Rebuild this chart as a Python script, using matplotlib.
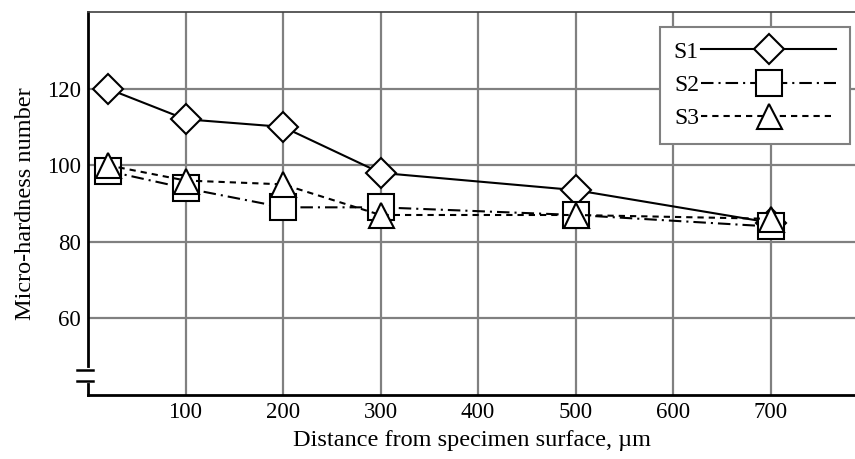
import matplotlib
matplotlib.use("Agg")
import matplotlib.pyplot as plt
from matplotlib.lines import Line2D

plt.rcParams['font.family'] = ['Liberation Serif', 'DejaVu Serif']

x = [20, 100, 200, 300, 500, 700]
s1 = [120, 112, 110, 98, 93.5, 85]
s2 = [98.5, 94, 89, 89, 87, 84]
s3 = [100, 96, 95, 87, 87, 86]
labels = ['S1', 'S2', 'S3']
xticks = [100, 200, 300, 400, 500, 600, 700]
yticks = [60, 80, 100, 120]

W, H = 855, 459
fig = plt.figure(figsize=(W / 100, H / 100), dpi=100)
L, R, T, B = 88, 855, 12, 395
ax = fig.add_axes([L / W, (H - B) / H, (R - L) / W, (B - T) / H])
ax.set_xlim(0, (R - L) / 0.975)
ax.set_ylim(40, 140)

ax.set_xticks(xticks)
ax.set_yticks(yticks)
ax.tick_params(length=0, labelsize=16.5, pad=5)
ax.grid(True, color='#808080', linewidth=1.6)
ax.set_axisbelow(True)

ax.spines['right'].set_visible(False)
ax.spines['top'].set_color('#404040')
ax.spines['top'].set_linewidth(1.2)
ax.spines['left'].set_linewidth(2)
ax.spines['bottom'].set_linewidth(2)

mk = dict(markerfacecolor='white', markeredgecolor='black', markeredgewidth=1.5)
ax.plot(x, s1, color='black', lw=1.5, linestyle='-', marker='D', markersize=15, label=labels[0], **mk)
ax.plot(x, s2, color='black', lw=1.5, linestyle=(0, (6, 2.4, 1, 2.4)), marker='s', markersize=18.5, label=labels[1], **mk)
ax.plot(x, s3, color='black', lw=1.5, linestyle=(0, (3, 2.4)), marker='^', markersize=18, label=labels[2], **mk)

ax.set_xlabel('Distance from specimen surface, \u00b5m', fontsize=17.5, labelpad=5)
ax.set_ylabel('Micro-hardness number', fontsize=17.5, labelpad=8)

# axis break
gy1 = (B - 370) / (B - T)
gy2 = (B - 381) / (B - T)
ax.add_line(Line2D([0, 0], [gy2, gy1], transform=ax.transAxes, color='white', lw=3, clip_on=False, zorder=5))
x0 = (77 - L) / (R - L)
x1 = (93 - L) / (R - L)
for gy in (gy1, gy2):
    ax.add_line(Line2D([x0, x1], [gy, gy], transform=ax.transAxes, color='black', lw=1.8, clip_on=False, zorder=6))

leg = ax.legend(loc='upper right', bbox_to_anchor=((850 - L) / (R - L), (B - 27) / (B - T)),
                fontsize=17, numpoints=1, handlelength=5.7, handletextpad=0.1,
                labelspacing=0.5, borderpad=0.6, borderaxespad=0, fancybox=False,
                framealpha=1, markerfirst=False)
leg.get_frame().set_edgecolor('#808080')
leg.get_frame().set_linewidth(1.5)

fig.savefig('out.png', dpi=100)
